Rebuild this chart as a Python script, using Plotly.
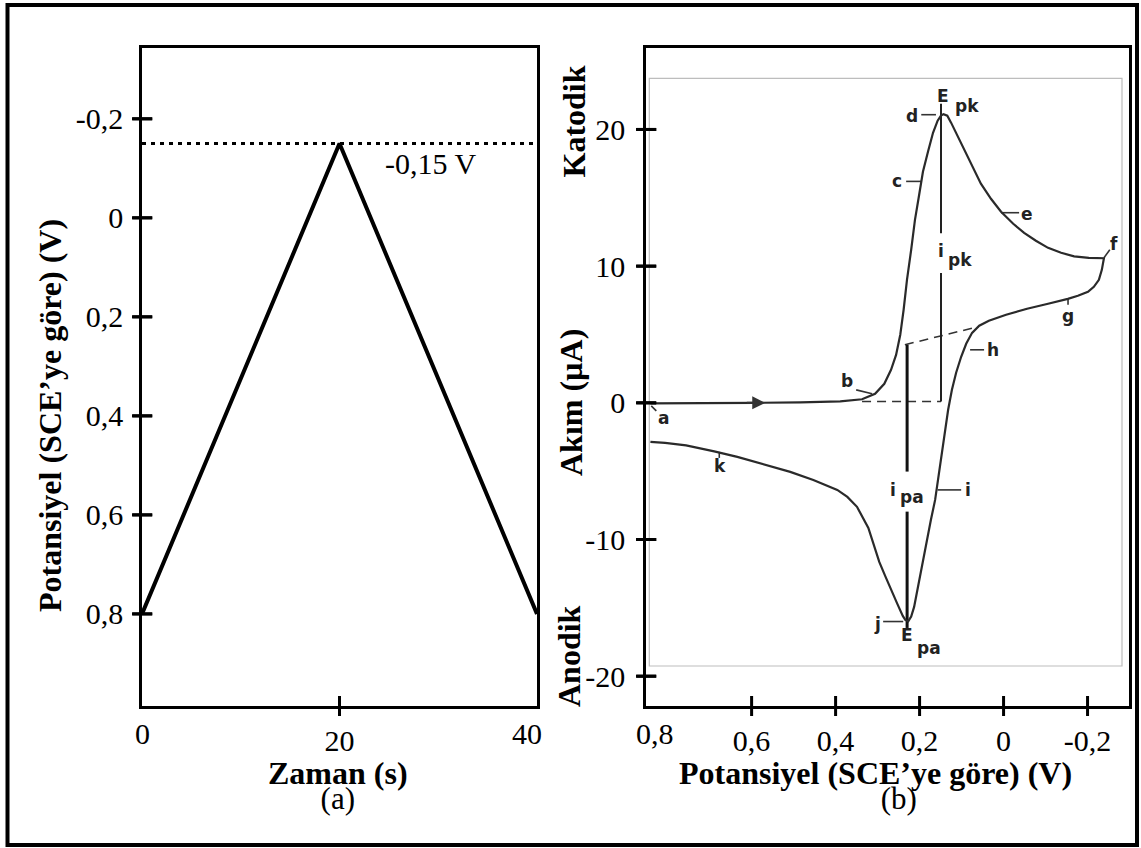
import plotly.graph_objects as go

W, H = 1141, 848

# ---------------- data ----------------
# (a) applied potential programme
time_s = [0, 20, 40]
potential_scan = [0.8, -0.15, 0.8]
switch_time = [0, 40]
switch_potential = [-0.15, -0.15]

# (b) cyclic voltammogram: potential (V vs SCE) and current (µA), forward then reverse scan
cv_E = [0.841, 0.722, 0.591, 0.484, 0.389, 0.337, 0.306, 0.284, 0.268, 0.256,
        0.246, 0.238, 0.230, 0.220, 0.211, 0.201, 0.192, 0.180, 0.168, 0.157,
        0.149, 0.143, 0.134, 0.125, 0.111, 0.094, 0.075, 0.054, 0.030, 0.006,
        -0.023, -0.049, -0.077, -0.106, -0.137, -0.168, -0.203, -0.239,
        -0.234, -0.227, -0.215, -0.201, -0.177, -0.153, -0.106, -0.056, -0.006, 0.035,
        0.058, 0.075, 0.089, 0.101, 0.113, 0.123, 0.132, 0.142, 0.153, 0.163,
        0.173, 0.182, 0.189, 0.198, 0.205, 0.213, 0.220, 0.227, 0.234, 0.240,
        0.253, 0.268, 0.282, 0.296, 0.308, 0.322, 0.349, 0.372, 0.396, 0.425,
        0.453, 0.508, 0.568, 0.634, 0.689, 0.756, 0.806, 0.841]
cv_I = [-0.04, -0.04, 0.0, 0.04, 0.11, 0.26, 0.66, 1.39, 2.42, 3.51,
        4.98, 6.81, 9.00, 11.20, 13.39, 15.22, 16.91, 18.37, 19.76, 20.64,
        21.01, 21.12, 21.01, 20.50, 19.62, 18.52, 17.27, 16.03, 14.93, 13.98,
        13.10, 12.44, 11.86, 11.34, 10.98, 10.72, 10.61, 10.58,
        9.73, 9.00, 8.49, 8.12, 7.83, 7.61, 7.25, 6.88, 6.44, 6.00,
        5.64, 5.12, 4.32, 3.37, 2.20, 0.95, -0.51, -2.71, -4.90, -7.10,
        -8.56, -10.03, -11.27, -12.59, -13.91, -14.93, -15.63, -15.99, -15.88, -15.59,
        -14.71, -13.69, -12.66, -11.64, -10.47, -9.15, -7.61, -6.88, -6.37, -6.00,
        -5.64, -5.05, -4.54, -3.95, -3.55, -3.11, -2.93, -2.85]

# peak-current construction lines
ipk_E = [0.149, 0.149, None, 0.149, 0.149]
ipk_I = [0.1, 9.5, None, 12.4, 21.88]
ipa_E = [0.2297, 0.2297, None, 0.2297, 0.2297]
ipa_I = [4.25, -5.03, None, -7.96, -16.47]
base_E = [0.337, 0.149, None, 0.235, 0.059]
base_I = [0.1, 0.1, None, 4.25, 5.58]

# letter labels on the voltammogram (text, E, I)
point_labels = [("a", 0.810, -1.10), ("b", 0.372, 1.61), ("c", 0.2535, 16.25),
                ("d", 0.218, 21.0), ("e", -0.056, 13.83), ("f", -0.263, 11.64),
                ("g", -0.1535, 6.37), ("h", 0.025, 3.88), ("i", 0.0857, -6.37),
                ("j", 0.301, -16.18), ("k", 0.675, -4.61),
                ("E", 0.145, 22.43), ("pk", 0.088, 21.74),
                ("i", 0.149, 11.12), ("pk", 0.1035, 10.47),
                ("i", 0.263, -6.37), ("pa", 0.218, -6.88),
                ("E", 0.2297, -17.02), ("pa", 0.178, -17.97)]
# short leader strokes from labels to the curve
leader_E = [0.839, 0.827, None, 0.351, 0.313, None, 0.232, 0.196, None, 0.196, 0.161, None,
            0.006, -0.037, None, -0.239, -0.253, None, -0.1535, -0.1535, None,
            0.0797, 0.0464, None, 0.157, 0.101, None, 0.2868, 0.239, None, 0.677, 0.677]
leader_I = [-0.22, -0.59, None, 0.95, 0.66, None, 16.2, 16.2, None, 21.08, 21.08, None,
            13.91, 13.91, None, 10.61, 11.20, None, 7.61, 7.17, None,
            3.88, 3.88, None, -6.37, -6.37, None, -16.0, -16.0, None, -3.59, -4.03]

a_ticks_x = [20]
a_ticktext_x = ["20"]
a_ticks_y = [-0.2, 0, 0.2, 0.4, 0.6, 0.8]
a_ticktext_y = ["-0,2", "0", "0,2", "0,4", "0,6", "0,8"]
b_ticks_x = [0.6, 0.4, 0.2, 0, -0.2]
b_ticktext_x = ["0,6", "0,4", "0,2", "0", "-0,2"]
b_ticks_y = [20, 10, 0, -10, -20]
b_ticktext_y = ["20", "10", "0", "-10", "-20"]

a_range_x = [0, 40]
a_range_y = [0.986, -0.343]
b_range_x = [0.8515, -0.2987]
b_range_y = [-22.18, 25.96]

# ---------------- figure ----------------
def px(x, y):
    return x / W, 1 - y / H

SERIF = "Liberation Serif"
tickfont = dict(family=SERIF, size=30, color="black")
LBL = dict(family="DejaVu Sans", size=17, color="#222222", weight="bold")

XA_L, XA_R = 142, 537      # panel (a) plot-area edges, px
XB_L, XB_R = 646, 1129     # panel (b)
Y_T, Y_B = 48, 706
TICK = 10                  # half tick length, px

fig = go.Figure()
fig.add_trace(go.Scatter(x=switch_time, y=switch_potential, mode="lines",
                         line=dict(color="black", width=3, dash="4px,5px"),
                         xaxis="x", yaxis="y", hoverinfo="skip"))
fig.add_trace(go.Scatter(x=time_s, y=potential_scan, mode="lines",
                         line=dict(color="black", width=4),
                         xaxis="x", yaxis="y"))

fig.add_trace(go.Scatter(x=base_E, y=base_I, mode="lines",
                         line=dict(color="#333", width=1.6, dash="9px,6px"),
                         xaxis="x2", yaxis="y2", hoverinfo="skip"))
fig.add_trace(go.Scatter(x=ipk_E, y=ipk_I, mode="lines",
                         line=dict(color="#222", width=2),
                         xaxis="x2", yaxis="y2", hoverinfo="skip"))
fig.add_trace(go.Scatter(x=ipa_E, y=ipa_I, mode="lines",
                         line=dict(color="#111", width=3),
                         xaxis="x2", yaxis="y2", hoverinfo="skip"))
fig.add_trace(go.Scatter(x=leader_E, y=leader_I, mode="lines",
                         line=dict(color="#333", width=1.6),
                         xaxis="x2", yaxis="y2", hoverinfo="skip"))
fig.add_trace(go.Scatter(x=cv_E, y=cv_I, mode="lines",
                         line=dict(color="#2a2a2a", width=2.2),
                         xaxis="x2", yaxis="y2"))

# x-axis tick marks crossing the bottom axis line
def x_tick_marks(vals, edge, xa, ya):
    return go.Scatter(x=vals, y=[edge] * len(vals), mode="markers", cliponaxis=False,
                      hoverinfo="skip",
                      marker=dict(symbol="line-ns", size=14.3, color="black",
                                  line=dict(width=3, color="black")),
                      xaxis=xa, yaxis=ya)

fig.add_trace(x_tick_marks(a_ticks_x, a_range_y[0], "x", "y"))
fig.add_trace(x_tick_marks(b_ticks_x, b_range_y[0], "x2", "y2"))

# y-axis tick marks: inner halves as short line segments on the data scale
def y_tick_inner(vals, rng, width_px, xa, ya):
    step = (rng[1] - rng[0]) * TICK / width_px
    xs, ys = [], []
    for v in vals:
        xs += [rng[0], rng[0] + step, None]
        ys += [v, v, None]
    return go.Scatter(x=xs, y=ys, mode="lines", hoverinfo="skip",
                      line=dict(color="black", width=3), xaxis=xa, yaxis=ya)

def y_tick_marks(vals, rng, width_px, xa, ya):
    eps = (rng[1] - rng[0]) * 0.4 / width_px
    return go.Scatter(x=[rng[0] + eps] * len(vals), y=vals, mode="markers",
                      cliponaxis=False, hoverinfo="skip",
                      marker=dict(symbol="line-ew", size=14.3, color="black",
                                  line=dict(width=3, color="black")),
                      xaxis=xa, yaxis=ya)

fig.add_trace(y_tick_inner(a_ticks_y, a_range_x, XA_R - XA_L, "x", "y"))
fig.add_trace(y_tick_inner(b_ticks_y, b_range_x, XB_R - XB_L, "x2", "y2"))
fig.add_trace(y_tick_marks(a_ticks_y, a_range_x, XA_R - XA_L, "x", "y"))
fig.add_trace(y_tick_marks(b_ticks_y, b_range_x, XB_R - XB_L, "x2", "y2"))

xa0, ya_top = px(XA_L, Y_T)
xa1, ya_bot = px(XA_R, Y_B)
xb0, _ = px(XB_L, Y_T)
xb1, _ = px(XB_R, Y_B)

def axis(tl, **kw):
    d = dict(showline=True, linecolor="black", linewidth=2.5, mirror=True,
             showgrid=False, zeroline=False, ticks="outside", ticklen=tl,
             tickwidth=1, tickcolor="rgba(0,0,0,0)", tickfont=tickfont, fixedrange=True,
             tickmode="array")
    d.update(kw)
    return d

fig.update_layout(
    width=W, height=H, margin=dict(l=0, r=0, t=0, b=0),
    paper_bgcolor="white", plot_bgcolor="white", showlegend=False,
    xaxis=axis(6, domain=[xa0, xa1], range=a_range_x, anchor="y",
               tickvals=a_ticks_x, ticktext=a_ticktext_x),
    yaxis=axis(10, domain=[ya_bot, ya_top], range=a_range_y, anchor="x",
               tickvals=a_ticks_y, ticktext=a_ticktext_y),
    xaxis2=axis(6, domain=[xb0, xb1], range=b_range_x, anchor="y2",
                tickvals=b_ticks_x, ticktext=b_ticktext_x),
    yaxis2=axis(12, domain=[ya_bot, ya_top], range=b_range_y, anchor="x2",
                tickvals=b_ticks_y, ticktext=b_ticktext_y),
)

shapes = []
fx0, fy0 = px(7.5, 5)
fx1, fy1 = px(1137, 845)
shapes.append(dict(type="rect", xref="paper", yref="paper", x0=fx0, y0=fy1, x1=fx1, y1=fy0,
                   line=dict(color="black", width=4), fillcolor="rgba(0,0,0,0)", layer="above"))
ix0, iy0 = px(649.3, 78.3)
ix1, iy1 = px(1122, 666)
shapes.append(dict(type="rect", xref="paper", yref="paper", x0=ix0, y0=iy1, x1=ix1, y1=iy0,
                   line=dict(color="#bdbdbd", width=1.2), fillcolor="rgba(0,0,0,0)", layer="below"))
# outer halves of the y ticks (y placed by the axis scale)
for vals, xl, yr in [(a_ticks_y, XA_L, "y"), (b_ticks_y, XB_L, "y2")]:
    for v in vals:
        shapes.append(dict(type="line", xref="paper", yref=yr,
                           x0=(xl - TICK) / W, x1=xl / W, y0=v, y1=v,
                           line=dict(color="black", width=3), layer="above"))
fig.update_layout(shapes=shapes)

ann = []

def text_px(t, x, y, size=31, bold=False, angle=0, xanchor="center"):
    X, Y = px(x, y)
    ann.append(dict(text=t, x=X, y=Y, xref="paper", yref="paper", showarrow=False,
                    xanchor=xanchor, yanchor="middle", textangle=angle,
                    font=dict(family=SERIF, size=size, color="black",
                              weight="bold" if bold else "normal")))

def title_block(title, panel, x, y, pad=""):
    # axis title and panel letter as one two-line text with tight line spacing
    X, Y = px(x, y)
    t = ("<span style='font-size:32px'><b>%s</b></span><br>"
         "<span style='font-size:31px'>%s%s</span>" % (title, pad, panel))
    ann.append(dict(text=t, x=X, y=Y, xref="paper", yref="paper", showarrow=False,
                    xanchor="center", yanchor="middle", align="center",
                    font=dict(family=SERIF, size=19.5, color="black")))

text_px("Potansiyel (SCE’ye göre) (V)", 50, 416, size=32, bold=True, angle=-90)
title_block("Zaman (s)", "(a)", 338, 785)
title_block("Potansiyel (SCE’ye göre) (V)", "(b)", 876, 785, pad="&nbsp;" * 6)
text_px("Katodik", 573.5, 122, size=32, bold=True, angle=-90)
text_px("Akım (µA)", 571, 403, size=32, bold=True, angle=-90)
text_px("Anodik", 569, 656, size=32, bold=True, angle=-90)
text_px("-0,15 V", 478, 163, size=30, xanchor="right")
text_px("0", 142.5, 733, size=30)
text_px("40", 527, 733, size=30)
text_px("0,8", 655, 733, size=30)

for t, e, i in point_labels:
    ann.append(dict(text=t, x=e, y=i, xref="x2", yref="y2", showarrow=False,
                    xanchor="center", yanchor="middle", font=LBL))

# scan-direction arrow on the forward sweep
ann.append(dict(text="", x=0.5676, y=0.0, ax=0.615, ay=0.0, xref="x2", yref="y2",
                axref="x2", ayref="y2", showarrow=True, arrowhead=2, arrowsize=1.3,
                arrowwidth=2, arrowcolor="#333"))
fig.update_layout(annotations=ann)

fig.write_html("out.html")
